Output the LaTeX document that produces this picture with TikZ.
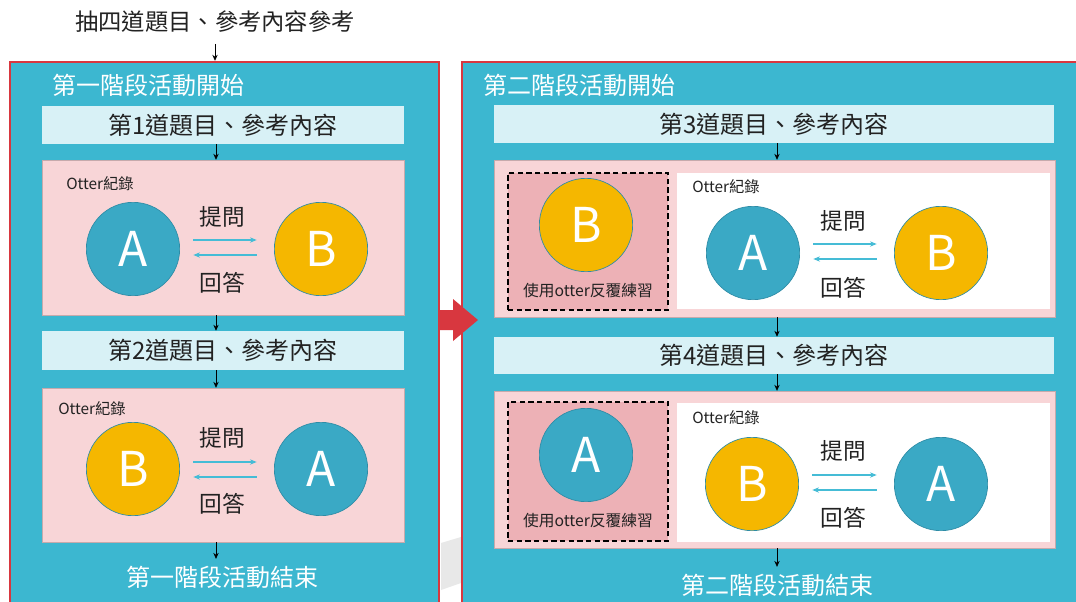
\documentclass[tikz,border=0pt]{standalone}
\usepackage{fontspec}
\setmainfont{Noto Sans CJK TC}
\usetikzlibrary{fit,arrows.meta}
\definecolor{panelblue}{HTML}{3CB7D0}
\definecolor{barfill}{HTML}{D8F1F6}
\definecolor{pinkfill}{HTML}{F8D5D7}
\definecolor{dpink}{HTML}{EDB1B6}
\definecolor{cblue}{HTML}{3AA9C5}
\definecolor{cblueedge}{HTML}{2E8CA6}
\definecolor{corange}{HTML}{F5B700}
\definecolor{redb}{HTML}{D8373F}
\definecolor{cyarrow}{HTML}{45BCD6}
\definecolor{txt}{HTML}{222222}
\newcommand{\fs}[1]{\fontsize{#1}{#1}\selectfont}
\newcommand{\arrowpair}[4]{%
  \draw[cyarr, shorten <=10pt, shorten >=13pt] ([yshift=#3]#1.east) -- ([yshift=#3]#2.west);
  \draw[cyarr, shorten <=13pt, shorten >=10pt] ([yshift=#4]#2.west) -- ([yshift=#4]#1.east);}
\begin{document}
\begin{tikzpicture}[x=0.75pt,y=-0.75pt,
  panel/.style={fill=panelblue, draw=redb, line width=1.8pt, inner sep=0pt},
  bar/.style={fill=barfill, inner sep=0pt},
  bartxt/.style={text=txt, font=\fs{18}, inner sep=0pt},
  pinkbox/.style={fill=pinkfill, draw=pinkfill!80!black, line width=0.3pt, inner sep=0pt},
  dashbox/.style={fill=dpink, draw=black, line width=1.4pt, dash pattern=on 4pt off 2.5pt, inner sep=0pt},
  whitebox/.style={fill=white, inner sep=0pt},
  stagetxt/.style={text=white, font=\fs{18}, inner sep=0pt},
  otter/.style={text=txt, font=\fs{11.5}, anchor=west, inner sep=0pt},
  qatxt/.style={text=txt, font=\fs{17}, inner sep=0pt},
  practice/.style={text=txt, font=\fs{11.8}, inner sep=0pt},
  circA/.style={circle, fill=cblue, draw=cblueedge, line width=0.5pt, minimum size=70pt, inner sep=0pt, text=white, font=\fs{36}},
  circB/.style={circle, fill=corange, draw=cblueedge, line width=0.5pt, minimum size=70pt, inner sep=0pt, text=white, font=\fs{36}},
  blk/.style={draw=black, line width=0.6pt, -{Stealth[length=4.5pt,width=4pt]}},
  cyarr/.style={draw=cyarrow, line width=0.9pt, -{Stealth[length=5pt,width=4pt]}}
]
\useasboundingbox (0,0) rectangle (1076,601);
\clip (0,0) rectangle (1076,601);
\fill[white] (0,0) rectangle (1076,601);

% faint watermark shape in the gap
\fill[gray!18] (441,543) -- (461,537) -- (461,583) -- (441,590) -- cycle;

% ---------------- left panel ----------------
\node[text=txt, font=\fs{17.5}, inner sep=0pt] (top) at (215,22) {抽四道題目、參考內容參考};
\node[panel, fit={(10,62) (439,625)}] (p1) {};
\draw[blk, shorten <=8pt] (top.south) -- (p1.north -| top.south);

\node[stagetxt, anchor=west] (h1) at (52,85) {第一階段活動開始};
\coordinate (c1) at (216,0);

\node[bar, fit={(42,106) (404,144)}] (q1) {};
\node[bartxt] at (q1.center) {第1道題目、參考內容};
\node[pinkbox, fit={(42,160) (404,315)}] (r1) {};
\node[bar, fit={(42,331) (404,370)}] (q2) {};
\node[bartxt] at (q2.center) {第2道題目、參考內容};
\node[pinkbox, fit={(42,388) (404,542)}] (r2) {};
\node[stagetxt] (e1) at (222,577) {第一階段活動結束};

\draw[blk] (q1.south -| c1) -- (r1.north -| c1);
\draw[blk] (r1.south -| c1) -- (q2.north -| c1);
\draw[blk] (q2.south -| c1) -- (r2.north -| c1);
\draw[blk, shorten >=5pt] (r2.south -| c1) -- (e1.north -| c1);

% box 1
\node[otter] (o1) at (66,184) {Otter紀錄};
\node[circA] (a1) at (133,249) {A};
\node[circB] (b1) at (321,249) {B};
\node[qatxt] (t1) at (222,217) {提問};
\node[qatxt] (u1) at (222,283) {回答};
\arrowpair{a1}{b1}{6.75pt}{-4.5pt}

% box 2
\node[otter] (o2) at (58,409) {Otter紀錄};
\node[circB] (b2) at (133,469) {B};
\node[circA] (a2) at (321,469) {A};
\node[qatxt] (t2) at (222,438) {提問};
\node[qatxt] (u2) at (222,504) {回答};
\arrowpair{b2}{a2}{5.25pt}{-6pt}

% ---------------- right panel ----------------
\node[panel, fit={(462,62) (1095,625)}] (p2) {};
\node[stagetxt, anchor=west] (h2) at (483,85) {第二階段活動開始};
\coordinate (c2) at (777,0);

\node[bar, fit={(494,105) (1054,143)}] (q3) {};
\node[bartxt] at (q3.center) {第3道題目、參考內容};
\node[pinkbox, fit={(494,160) (1055,317)}] (r3) {};
\node[bar, fit={(494,337) (1054,374)}] (q4) {};
\node[bartxt] at (q4.center) {第4道題目、參考內容};
\node[pinkbox, fit={(494,391) (1055,548)}] (r4) {};
\node[stagetxt] (e2) at (777,585) {第二階段活動結束};

\draw[blk] (q3.south -| c2) -- (r3.north -| c2);
\draw[blk] (r3.south -| c2) -- (q4.north -| c2);
\draw[blk] (q4.south -| c2) -- (r4.north -| c2);
\draw[blk, shorten >=5pt] (r4.south -| c2) -- (e2.north -| c2);

% box 3
\node[dashbox, fit={(508,173) (668,310)}] (d3) {};
\node[whitebox, fit={(677,173) (1050,309)}] (w3) {};
\node[circB] (pb3) at (586,225) {B};
\node[practice] (pt3) at (588,291) {使用otter反覆練習};
\node[otter] (o3) at (692,187) {Otter紀錄};
\node[circA] (a3) at (753,253) {A};
\node[circB] (b3) at (941,253) {B};
\node[qatxt] (t3) at (843,221) {提問};
\node[qatxt] (u3) at (843,288) {回答};
\arrowpair{a3}{b3}{6.75pt}{-4.5pt}

% box 4
\node[dashbox, fit={(508,402) (668,541)}] (d4) {};
\node[whitebox, fit={(677,403) (1050,542)}] (w4) {};
\node[circA] (pa4) at (586,455) {A};
\node[practice] (pt4) at (588,521) {使用otter反覆練習};
\node[otter] (o4) at (692,418) {Otter紀錄};
\node[circB] (b4) at (752,484) {B};
\node[circA] (a4) at (941,484) {A};
\node[qatxt] (t4) at (843,451) {提問};
\node[qatxt] (u4) at (843,518) {回答};
\arrowpair{b4}{a4}{6.75pt}{-4.5pt}

% red block arrow between the panels
\fill[redb] (440,310) -- (453,310) -- (453,299) -- (478,320) -- (453,341) -- (453,330) -- (440,330) -- cycle;
\end{tikzpicture}
\end{document}
